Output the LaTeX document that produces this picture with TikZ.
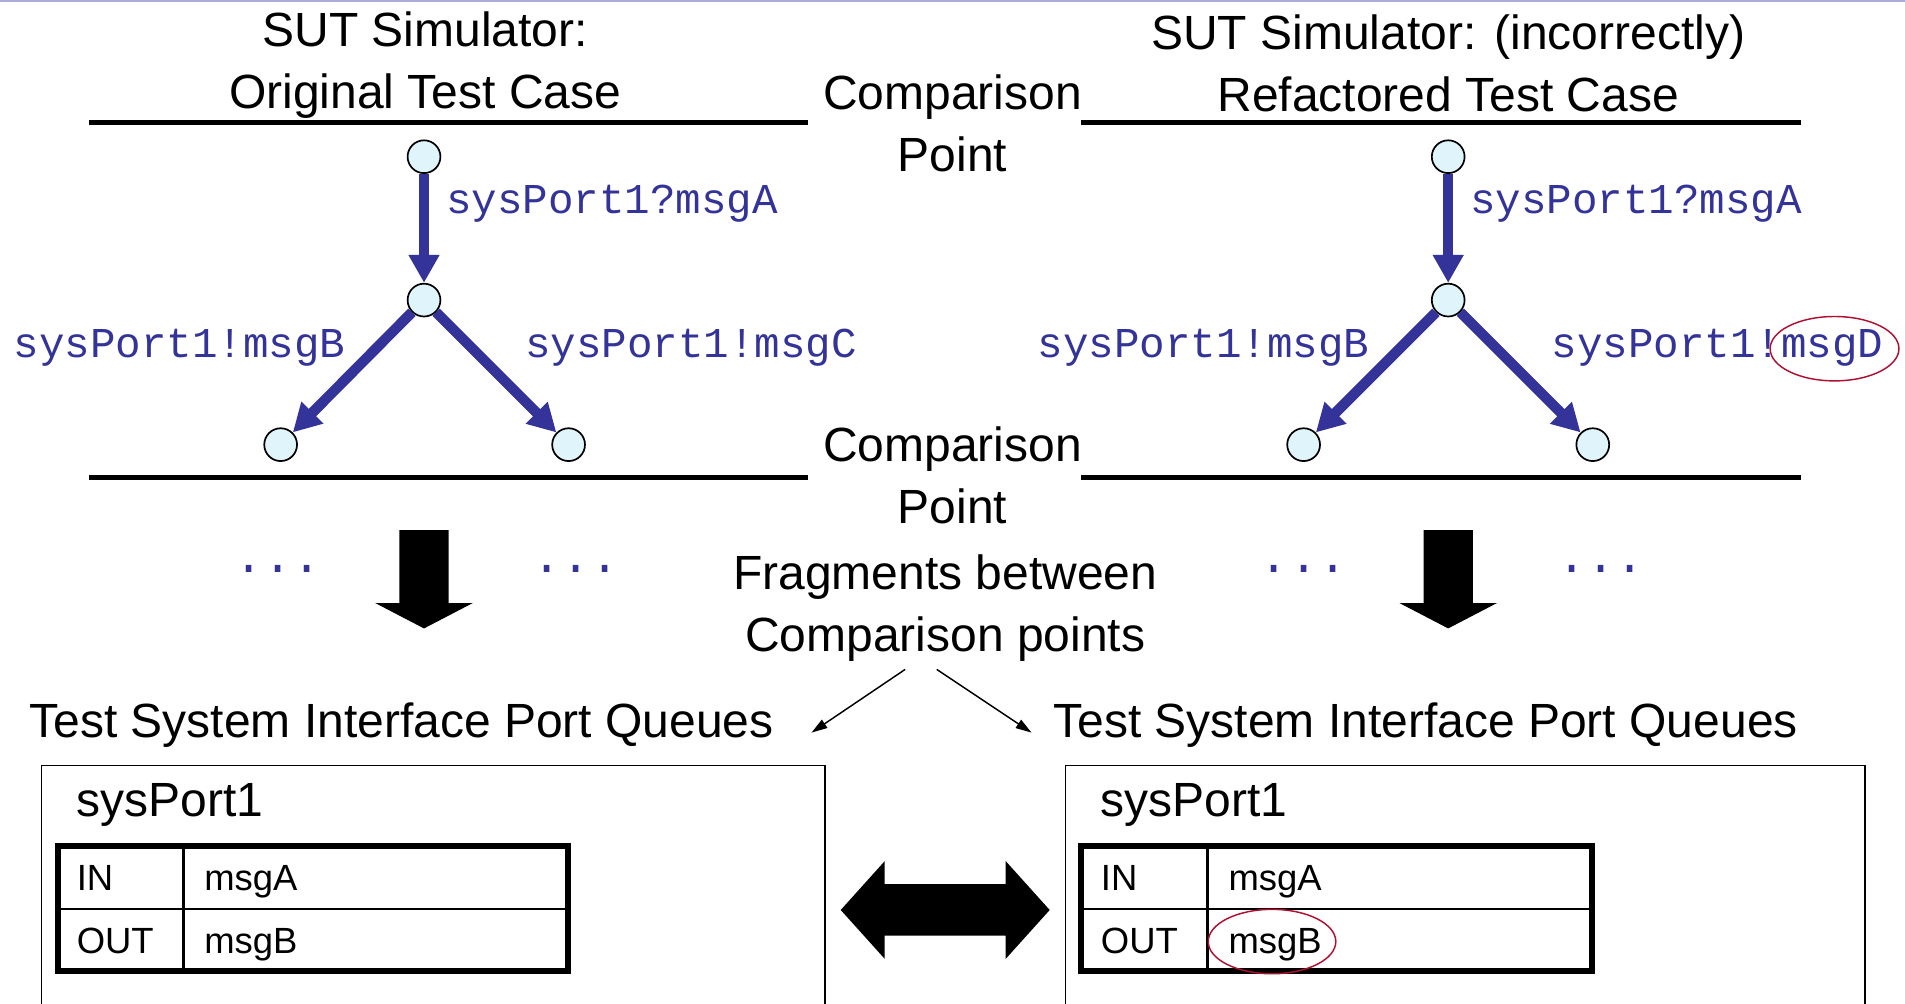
\documentclass[tikz,border=0pt]{standalone}
\usepackage{fontspec}
\setmainfont{Liberation Sans}
\setmonofont{Liberation Mono}
\usetikzlibrary{arrows.meta}
\usetikzlibrary{positioning}
\usetikzlibrary{shapes.geometric}
\usetikzlibrary{shapes.arrows}

\definecolor{msgblue}{RGB}{51,51,153}
\definecolor{statefill}{RGB}{224,244,252}
\definecolor{markred}{RGB}{176,16,48}
\definecolor{slideline}{RGB}{170,170,221}

\tikzset{
  state/.style={circle, draw, fill=statefill, line width=1.4pt, minimum size=27pt, inner sep=0pt},
  trans/.style={draw=msgblue, line width=8.5pt, -{Triangle[length=23pt,width=24pt]}},
  msglabel/.style={font=\ttfamily\fontsize{35}{40}\selectfont, text=msgblue, inner sep=0pt, anchor=base west},
  heading/.style={font=\fontsize{39.5}{51}\selectfont, align=center, inner sep=0pt, anchor=base},
  cell/.style={font=\fontsize{30}{36}\selectfont, inner sep=0pt, anchor=base west},
  rulebar/.style={line width=4pt},
  dots/.style={font=\ttfamily\fontsize{40}{40}\selectfont, text=msgblue, inner sep=0pt, anchor=base},
  downblock/.style={single arrow, fill=black, shape border rotate=270, minimum height=81pt,
    single arrow head extend=20pt, single arrow tip angle=125, inner sep=20pt},
  redring/.style={ellipse, draw=markred, line width=1.2pt, minimum width=106pt, minimum height=53pt, inner sep=0pt},
  pointer/.style={line width=1.2pt, -{Triangle[length=13pt,width=8pt]}}
}

\begin{document}
\begin{tikzpicture}[x=1pt,y=-1pt]
  \useasboundingbox (0,0) rectangle (1568,826);
  \draw[slideline, line width=1.5pt] (0,0.8) -- (1568,0.8);

  % headings (base = last line)
  \node[heading] (origtitle) at (350,89) {SUT Simulator:\\Original Test Case};
  \node[heading] (reftitle) at (1192,92) {SUT Simulator: (incorrectly)\\Refactored Test Case};
  \node[heading] (cmptop) at (784,141) {Comparison\\Point};
  \node[heading] (cmpbot) at (784,431) {Comparison\\Point};
  \node[heading] (frag) at (778,536) {Fragments between\\Comparison points};

  % comparison rules
  \draw[rulebar] (73,101) -- (665,101);
  \draw[rulebar] (890,101) -- (1482,101);
  \draw[rulebar] (73,393) -- (665,393);
  \draw[rulebar] (890,393) -- (1482,393);

  % original test case
  \node[state] (oTop) at (349,129) {};
  \node[state] (oMid) at (349,247) {};
  \node[state] (oLeft) at (231,366) {};
  \node[state] (oRight) at (468,366) {};
  \draw[trans] (oTop) -- (oMid);
  \draw[trans] (oMid) -- (oLeft);
  \draw[trans] (oMid) -- (oRight);
  \node[msglabel] (oA) at (367,176) {sysPort1?msgA};
  \node[msglabel] (oB) at (11,294) {sysPort1!msgB};
  \node[msglabel] (oC) at (432,294) {sysPort1!msgC};

  % refactored test case
  \node[state] (rTop) at (1192,129) {};
  \node[state] (rMid) at (1192,247) {};
  \node[state] (rLeft) at (1073,366) {};
  \node[state] (rRight) at (1311,366) {};
  \draw[trans] (rTop) -- (rMid);
  \draw[trans] (rMid) -- (rLeft);
  \draw[trans] (rMid) -- (rRight);
  \node[msglabel] (rA) at (1210,176) {sysPort1?msgA};
  \node[msglabel] (rB) at (854,294) {sysPort1!msgB};
  \node[msglabel] (rD) at (1277,294) {sysPort1!msgD};
  \node[redring] (ringD) at (1510,287) {};

  % fragments
  \node[dots] (dotsLa) at (229,471) {...};
  \node[dots] (dotsLb) at (474,471) {...};
  \node[dots] (dotsRa) at (1073,471) {...};
  \node[dots] (dotsRb) at (1318,471) {...};
  \node[downblock] (downL) at (349,471.5) {};
  \node[downblock] (downR) at (1192,471.5) {};

  % port queues
  \node[heading, anchor=base west] (queuesL) at (24,607) {Test System Interface Port Queues};
  \node[heading, anchor=base west] (queuesR) at (867,607) {Test System Interface Port Queues};
  \coordinate (fragL) at (745,551);
  \coordinate (fragR) at (771,551);
  \coordinate (toL) at (668,603);
  \coordinate (toR) at (849,603);
  \draw[pointer] (fragL) -- (toL);
  \draw[pointer] (fragR) -- (toR);

  \draw[line width=1.2pt] (34,840) |- (679,630) -- (679,840);
  \draw[line width=1.2pt] (877,840) |- (1535,630) -- (1535,840);
  \node[heading, anchor=base west] (portL) at (63,672) {sysPort1};
  \node[heading, anchor=base west] (portR) at (906,672) {sysPort1};

  \node[draw, line width=5pt, minimum width=420pt, minimum height=103pt, inner sep=0pt] (tblL) at (257.5,748) {};
  \node[draw, line width=5pt, minimum width=421pt, minimum height=103pt, inner sep=0pt] (tblR) at (1100,748) {};
  \coordinate (divL) at (151,0);
  \coordinate (divR) at (994,0);
  \draw[line width=2pt] (tblL.west) -- (tblL.east);
  \draw[line width=2pt] (divL |- tblL.north) -- (divL |- tblL.south);
  \draw[line width=2pt] (tblR.west) -- (tblR.east);
  \draw[line width=2pt] (divR |- tblR.north) -- (divR |- tblR.south);

  \node[cell] (inL) at (63,733) {IN};
  \node[cell] (inmsgL) at (168,733) {msgA};
  \node[cell] (outL) at (63,785) {OUT};
  \node[cell] (outmsgL) at (168,785) {msgB};
  \node[cell] (inR) at (906,733) {IN};
  \node[cell] (inmsgR) at (1011,733) {msgA};
  \node[cell] (outR) at (906,785) {OUT};
  \node[cell] (outmsgR) at (1011,785) {msgB};
  \node[redring, minimum width=105pt] (ringB) at (1047,775) {};

  \node[double arrow, fill=black, minimum height=172pt,
    double arrow head extend=19pt, double arrow tip angle=96, inner sep=21pt] (compare) at (778,749) {};
\end{tikzpicture}
\end{document}
